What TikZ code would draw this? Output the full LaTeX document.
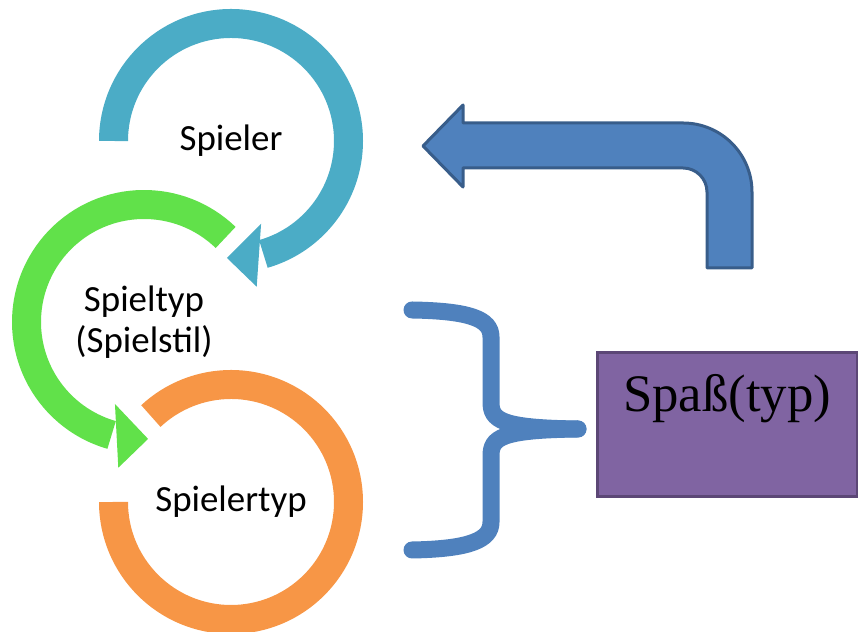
\documentclass[tikz,border=0pt]{standalone}
\usepackage{fontspec}
\setmainfont{Carlito}
\newfontfamily\timesfont{Liberation Serif}
\usetikzlibrary{calc}
\definecolor{ringblue}{HTML}{4BACC6}
\definecolor{ringgreen}{HTML}{61E14A}
\definecolor{ringorange}{HTML}{F79646}
\definecolor{arrowfill}{HTML}{4F81BD}
\definecolor{arrowline}{HTML}{385D8A}
\definecolor{boxfill}{HTML}{8064A2}
\definecolor{boxline}{HTML}{5C4776}

\begin{document}
\begin{tikzpicture}[x=.2mm,y=.2mm,
  ring/.style={line width=5.8mm},
  lbl/.style={font=\fontsize{21}{23.5}\selectfont,align=center}]
\useasboundingbox (0,0) rectangle (858,632);
\coordinate (cA) at (231,491);
\coordinate (cB) at (144,310);
\coordinate (cC) at (231,130);
% the three rings
\draw[ring,ringorange] ($(cC)+(180:117.5)$) arc[start angle=180,end angle=493,radius=117.5];
\draw[ring,ringgreen] ($(cB)+(46:117.5)$) arc[start angle=46,end angle=254,radius=117.5];
\fill[ringgreen] ($(cB)+(250.5:87)$)--($(cB)+(272:117)$)--($(cB)+(260:148)$)--cycle;
\draw[ring,ringblue] ($(cA)+(180:117.5)$) arc[start angle=180,end angle=-74,radius=117.5];
\fill[ringblue] ($(cA)+(-70:88)$)--($(cA)+(-92:117)$)--($(cA)+(-80:148)$)--cycle;
\node[lbl] (spieler) at (cA) {Spieler};
\node[lbl] (spieltyp) at (cB) {Spieltyp\\(Spielstil)};
\node[lbl] (spielertyp) at (cC) {Spielertyp};
% bent arrow back to the top
\draw[line width=.6mm,line join=round,draw=arrowline,fill=arrowfill]
  (423,486)--(463,527)--(463,509)--(683,509) arc[start angle=90,end angle=0,radius=69]
  --(752,364)--(707,364)--(707,440) arc[start angle=0,end angle=90,radius=24]
  --(463,464)--(463,445)--cycle;
% brace
\draw[line width=3.4mm,line cap=round,arrowfill] (412,322) .. controls (470,321) and (491,313) .. (491,295)
  --(491,230) .. controls (491,212) and (500,204) .. (578,203);
\draw[line width=3.4mm,line cap=round,arrowfill] (578,203) .. controls (500,202) and (491,194) .. (491,176)
  --(491,110) .. controls (491,92) and (470,83) .. (412,82);
\node[draw=boxline,fill=boxfill,line width=.6mm,minimum width=52mm,minimum height=28.8mm,inner sep=0pt] (spass) at (727,207) {};
\node[font=\timesfont\fontsize{30}{34}\selectfont,anchor=base] (spasslbl) at (727,220) {Spaß(typ)};
\end{tikzpicture}
\end{document}
